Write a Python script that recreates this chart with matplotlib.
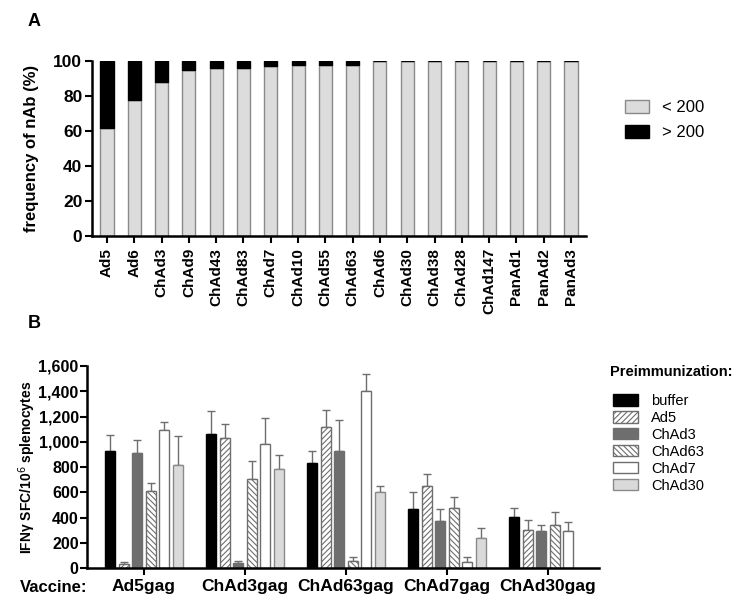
import matplotlib.pyplot as plt
import matplotlib as mpl
import numpy as np

plt.rcParams['font.family'] = ['Liberation Sans', 'DejaVu Sans']
plt.rcParams['hatch.linewidth'] = 0.8

# panel A data
viruses = ['Ad5', 'Ad6', 'ChAd3', 'ChAd9', 'ChAd43', 'ChAd83', 'ChAd7', 'ChAd10',
           'ChAd55', 'ChAd63', 'ChAd6', 'ChAd30', 'ChAd38', 'ChAd28', 'ChAd147',
           'PanAd1', 'PanAd2', 'PanAd3']
low_titer = [62, 78, 88, 95, 96, 96, 97, 98, 98, 98, 100, 100, 100, 100, 100, 100, 100, 100]
high_titer = [100 - v for v in low_titer]

# panel B data
vaccines = ['Ad5gag', 'ChAd3gag', 'ChAd63gag', 'ChAd7gag', 'ChAd30gag']
preimm = ['buffer', 'Ad5', 'ChAd3', 'ChAd63', 'ChAd7', 'ChAd30']
sfc_buffer = [930, 1058, 834, 466, 403]
sfc_ad5 = [32, 1026, 1113, 647, 300]
sfc_chad3 = [908, 37, 929, 376, 297]
sfc_chad63 = [611, 708, 55, 474, 340]
sfc_chad7 = [1090, 984, 1405, 47, 292]
sfc_chad30 = [813, 782, 604, 237, 0]
err_buffer = [123, 182, 95, 139, 76]
err_ad5 = [15, 116, 135, 95, 79]
err_chad3 = [103, 16, 247, 90, 40]
err_chad63 = [60, 137, 29, 86, 100]
err_chad7 = [63, 208, 135, 37, 74]
err_chad30 = [229, 115, 48, 79, 0]

W, H = 743, 606
fig = plt.figure(figsize=(W / 100, H / 100), dpi=100)


def px_axes(left, top, right, bottom):
    return fig.add_axes([left / W, 1 - bottom / H, (right - left) / W, (bottom - top) / H])


def style_axes(ax):
    for s in ['top', 'right']:
        ax.spines[s].set_visible(False)
    for s in ['left', 'bottom']:
        ax.spines[s].set_linewidth(1.8)
    ax.tick_params(width=1.5, length=5, direction='out')


# ---- panel A ----
axA = px_axes(92, 61, 586, 236)
style_axes(axA)
x = np.arange(len(viruses))
axA.bar(x, low_titer, 0.48, color='#dcdcdc', edgecolor='#8a8a8a', linewidth=1, label='< 200')
axA.bar(x, high_titer, 0.48, bottom=low_titer, color='black', edgecolor='black',
        linewidth=1, label='> 200')
axA.set_xlim(-0.55, 17.55)
axA.set_ylim(0, 100)
axA.set_yticks([0, 20, 40, 60, 80, 100])
axA.set_xticks(x)
axA.set_xticklabels(viruses, rotation=90, fontsize=11, fontweight='bold')
for lab in axA.get_yticklabels():
    lab.set_fontsize(12.5)
    lab.set_fontweight('bold')
axA.tick_params(axis='y', pad=2)
axA.set_ylabel('frequency of nAb (%)', fontsize=12, fontweight='bold', labelpad=10)
axA.legend(loc='upper left', bbox_to_anchor=(610 / W, 1 - 85 / H), bbox_transform=fig.transFigure,
           frameon=False, fontsize=12, handlelength=1.45, handleheight=0.8, handletextpad=0.8,
           labelspacing=0.6)
fig.text(28 / W, 1 - 22 / H, 'A', fontsize=13, fontweight='bold', va='center')

# ---- panel B ----
axB = px_axes(87, 366, 599, 568)
style_axes(axB)
g = np.arange(len(vaccines))
series = [sfc_buffer, sfc_ad5, sfc_chad3, sfc_chad63, sfc_chad7, sfc_chad30]
errs = [err_buffer, err_ad5, err_chad3, err_chad63, err_chad7, err_chad30]
faces = ['black', 'white', '#6e6e6e', 'white', 'white', '#dadada']
edges = ['black', '#6e6e6e', '#6e6e6e', '#6e6e6e', '#6e6e6e', '#8a8a8a']
hatches = [None, '//////', None, '\\\\\\\\\\\\', None, None]
bw = 0.1
step = 0.133
for i, (vals, e) in enumerate(zip(series, errs)):
    pos = g + (i - 2.5) * step
    vals = np.array(vals)
    keep = vals > 0
    axB.bar(pos[keep], vals[keep], bw, color=faces[i], edgecolor=edges[i], hatch=hatches[i],
            linewidth=1, label=preimm[i], zorder=2)
    axB.errorbar(pos[keep], vals[keep], yerr=[np.zeros(keep.sum()), np.array(e)[keep]],
                 fmt='none', ecolor='#6e6e6e', elinewidth=1, capsize=3, capthick=1, zorder=1)
axB.set_xlim(-0.564, 4.505)
axB.set_ylim(0, 1600)
axB.set_yticks(np.arange(0, 1601, 200))
axB.yaxis.set_major_formatter(mpl.ticker.StrMethodFormatter('{x:,.0f}'))
for lab in axB.get_yticklabels():
    lab.set_fontsize(11.5)
    lab.set_fontweight('bold')
axB.tick_params(axis='y', pad=1)
axB.set_xticks(g)
axB.set_xticklabels(vaccines, fontsize=12.5, fontweight='bold')
axB.tick_params(axis='x', pad=3)
axB.set_ylabel('IFN\u03b3 SFC/10$^6$ splenocytes', fontsize=10, fontweight='bold', labelpad=0)
fig.text(20 / W, 1 - 587 / H, 'Vaccine:', fontsize=12, fontweight='bold', va='center')
axB.legend(loc='upper left', bbox_to_anchor=(600 / W, 1 - 381 / H), bbox_transform=fig.transFigure,
           frameon=False, fontsize=10.5, handlelength=1.7, handleheight=0.8, handletextpad=0.9,
           labelspacing=0.2)
fig.text(610 / W, 1 - 372 / H, 'Preimmunization:', fontsize=10.5, fontweight='bold', va='center')
fig.text(28 / W, 1 - 324 / H, 'B', fontsize=13, fontweight='bold', va='center')

fig.savefig('out.png', dpi=100)
